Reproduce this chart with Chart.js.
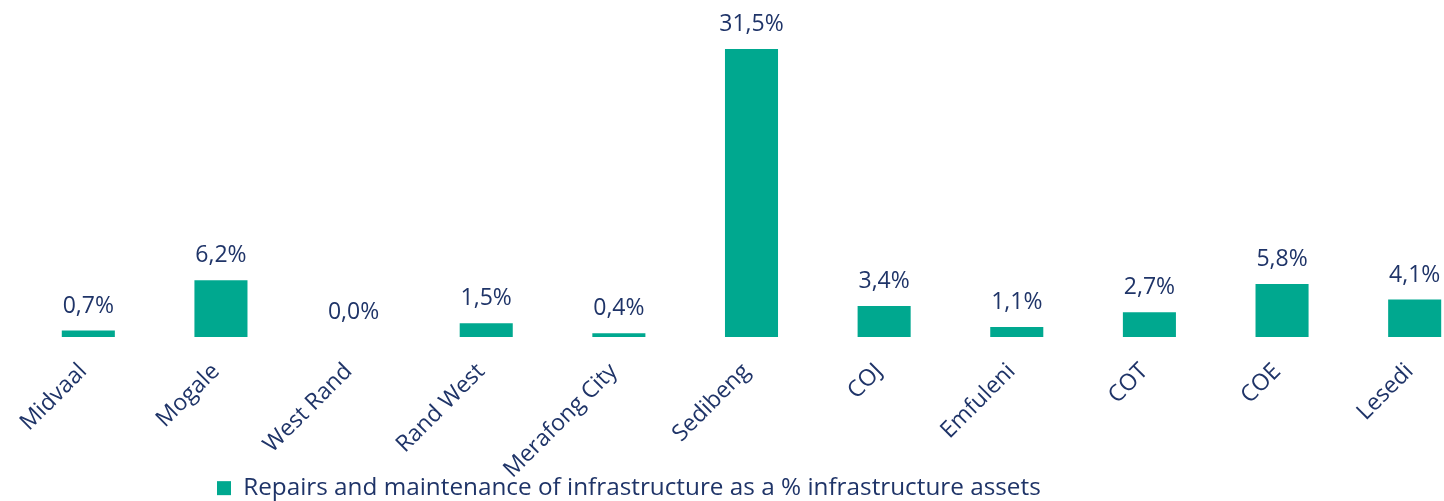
<!DOCTYPE html>
<html>
<head>
<meta charset="utf-8">
<script src="https://cdn.jsdelivr.net/npm/chart.js@4.4.1/dist/chart.umd.min.js"></script>
<style>
  html, body { margin: 0; padding: 0; background: #fff; overflow: hidden; }
  #wrap { position: relative; width: 1500px; height: 501px; }
</style>
</head>
<body>
<div id="wrap"><canvas id="chart"></canvas></div>
<script>
// municipalities on the x axis
const categories = [
  "Midvaal", "Mogale", "West Rand", "Rand West", "Merafong City",
  "Sedibeng", "COJ", "Emfuleni", "COT", "COE", "Lesedi"
];
// repairs & maintenance as % of infrastructure assets
const repairsPct = [0.7, 6.2, 0.0, 1.5, 0.4, 31.5, 3.4, 1.1, 2.7, 5.8, 4.1];
const seriesName = "Repairs and maintenance of infrastructure as a % infrastructure assets";

const TEAL = "#00a88f";
const NAVY = "#1f3468";
const FONT = "'Open Sans', 'DejaVu Sans', sans-serif";

// labels above the bars, e.g. "31,5%"
const valueLabels = {
  id: "valueLabels",
  afterDatasetsDraw(chart) {
    const ctx = chart.ctx;
    const meta = chart.getDatasetMeta(0);
    ctx.save();
    ctx.font = "23px " + FONT;
    ctx.fillStyle = NAVY;
    ctx.textAlign = "center";
    ctx.textBaseline = "alphabetic";
    meta.data.forEach((bar, i) => {
      const txt = repairsPct[i].toFixed(1).replace(".", ",") + "%";
      ctx.fillText(txt, bar.x, bar.y - 18);
    });
    ctx.restore();
  }
};

// the legend overlaps the bottom of the rotated labels in the original,
// so it floats (chartArea position) and gets put at the bottom by hand
const legendPlace = {
  id: "legendPlace",
  afterLayout(chart) {
    const lg = chart.legend;
    const w = lg.right - lg.left;
    const h = lg.bottom - lg.top;
    lg.left = 207;
    lg.right = 207 + w;
    lg.top = 466;
    lg.bottom = 466 + h;
  }
};

new Chart(document.getElementById("chart"), {
  type: "bar",
  data: {
    labels: categories,
    datasets: [{
      label: seriesName,
      data: repairsPct,
      backgroundColor: TEAL,
      borderWidth: 0,
      barPercentage: 0.4,
      categoryPercentage: 1.0
    }]
  },
  options: {
    responsive: true,
    maintainAspectRatio: false,
    animation: false,
    layout: { padding: { top: 17, left: 22, right: 19, bottom: 0 } },
    plugins: {
      title: { display: false },
      tooltip: { enabled: false },
      legend: {
        position: "chartArea",
        align: "start",
        labels: {
          color: NAVY,
          font: { family: FONT, size: 24.3 },
          boxWidth: 14,
          boxHeight: 14,
          padding: 10
        }
      }
    },
    scales: {
      x: {
        grid: { display: false, drawTicks: false },
        border: { display: false },
        ticks: {
          color: NAVY,
          font: { family: FONT, size: 23 },
          maxRotation: 45,
          minRotation: 45,
          padding: 21,
          labelOffset: -5,
          autoSkip: false
        },
        afterFit(scale) { scale.height = 164; }
      },
      y: {
        display: false,
        min: 0,
        max: 35
      }
    }
  },
  plugins: [valueLabels, legendPlace]
});
</script>
</body>
</html>
